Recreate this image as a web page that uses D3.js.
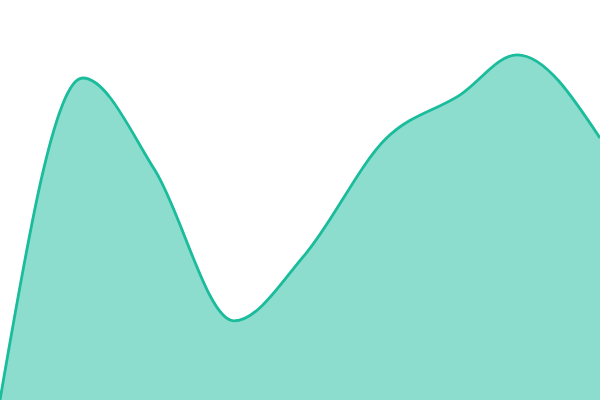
<!DOCTYPE html>
<html>
<head>
<meta charset="utf-8">
<script src="https://cdn.jsdelivr.net/npm/d3@7"></script>
<style>
  html, body { margin: 0; padding: 0; background: #fff; }
  svg { display: block; }
</style>
</head>
<body>
<svg id="chart" width="600" height="400"></svg>
<script>
// Data (x position 0–100, value 0–100)
const xValues = [0, 13.8, 25.8, 39, 50.8, 64.3, 76.7, 86.2, 100];
const yValues = [0, 80.5, 57.5, 19.8, 36.3, 65.3, 76.3, 86.3, 65.5];

const width = 600, height = 400;
const data = xValues.map((x, i) => ({ x, y: yValues[i] }));

const svg = d3.select("#chart");
const x = d3.scaleLinear().domain([0, 100]).range([0, width]);
const y = d3.scaleLinear().domain([0, 100]).range([height, 0]);

const area = d3.area()
  .x(d => x(d.x))
  .y0(y(0))
  .y1(d => y(d.y))
  .curve(d3.curveMonotoneX);

const line = d3.line()
  .x(d => x(d.x))
  .y(d => y(d.y))
  .curve(d3.curveMonotoneX);

svg.append("path")
  .datum(data)
  .attr("d", area)
  .attr("fill", "#1abc9c")
  .attr("fill-opacity", 0.5);

svg.append("path")
  .datum(data)
  .attr("d", line)
  .attr("fill", "none")
  .attr("stroke", "#1abc9c")
  .attr("stroke-width", 2.8);
</script>
</body>
</html>
